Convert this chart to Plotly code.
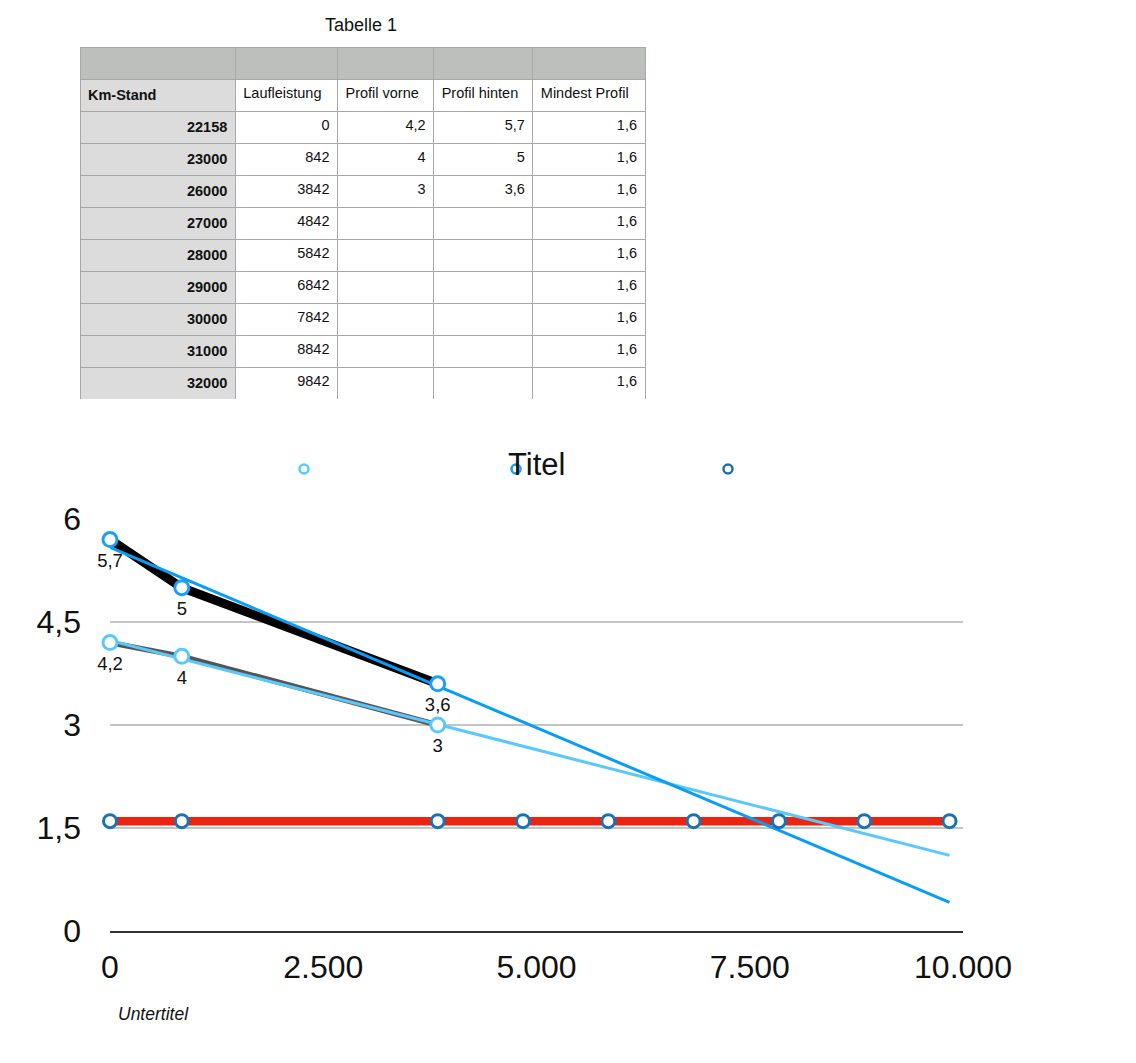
import numpy as np
import plotly.graph_objects as go

# ---------------- data ----------------
km_stand = [22158, 23000, 26000, 27000, 28000, 29000, 30000, 31000, 32000]
laufleistung = [0, 842, 3842, 4842, 5842, 6842, 7842, 8842, 9842]
profil_vorne = [4.2, 4, 3, None, None, None, None, None, None]
profil_hinten = [5.7, 5, 3.6, None, None, None, None, None, None]
mindest_profil = [1.6, 1.6, 1.6, 1.6, 1.6, 1.6, 1.6, 1.6, 1.6]
column_titles = ["Km-Stand", "Laufleistung", "Profil vorne", "Profil hinten", "Mindest Profil"]
x_tick_vals = [0, 2500, 5000, 7500, 10000]
x_tick_text = ["0", "2.500", "5.000", "7.500", "10.000"]
y_tick_vals = [0, 1.5, 3, 4.5, 6]
y_tick_text = ["0", "1,5", "3", "4,5", "6"]
table_title = "Tabelle 1"
chart_title = "Titel"
chart_subtitle = "Untertitel"

# the page body has an 8px margin; size the figure so it fits the window exactly
OFF = 8
W, H = 1136 - 2 * OFF, 1063 - 2 * OFF
FONT = "Liberation Sans, Arial, Helvetica, sans-serif"


def de(v):
    if v is None:
        return ""
    if float(v).is_integer():
        return str(int(v))
    return str(v).replace(".", ",")


def px_x(p):
    return (p - OFF) / W


def px_y(p):
    return 1 - (p - OFF) / H


fig = go.Figure()

# ---------------- table ----------------
COLW = [155, 102, 96, 99, 112]
LINE = dict(color="#a8a8a8", width=1)
cols = [km_stand, laufleistung, profil_vorne, profil_hinten, mindest_profil]

header_vals = []
header_fill = []
body = []
body_fill = []
for ci, col in enumerate(cols):
    t = column_titles[ci].replace(" ", "\u00a0")  # keep titles on one line
    header_vals.append(["", ("<b>%s</b>" % t) if ci == 0 else t])
    header_fill.append(["#bdbfbd", "#dcdcdc" if ci == 0 else "#ffffff"])
    body.append([("<b>%s</b>" % de(v)) if ci == 0 else de(v) for v in col])
    body_fill.append("#dcdcdc" if ci == 0 else "#ffffff")

fig.add_trace(go.Table(
    domain=dict(x=[px_x(80), px_x(645)], y=[px_y(400), px_y(47)]),
    columnwidth=COLW,
    header=dict(values=header_vals, height=32, align="left",
                fill=dict(color=header_fill), line=LINE,
                font=dict(family=FONT, size=14.5, color="#111111")),
    cells=dict(values=body, height=32, align="right",
               fill=dict(color=body_fill), line=LINE,
               font=dict(family=FONT, size=14.5, color="#111111")),
))

# ---------------- chart ----------------
def valid(ys):
    m = [i for i, v in enumerate(ys) if v is not None]
    return [laufleistung[i] for i in m], [ys[i] for i in m]


vx, vy = valid(profil_vorne)
hx, hy = valid(profil_hinten)

# lines
fig.add_trace(go.Scatter(x=vx, y=vy, mode="lines", line=dict(color="#555555", width=5.5),
                         showlegend=False, hoverinfo="skip"))
fig.add_trace(go.Scatter(x=hx, y=hy, mode="lines", line=dict(color="#000000", width=9),
                         showlegend=False, hoverinfo="skip"))
fig.add_trace(go.Scatter(x=laufleistung, y=mindest_profil, mode="lines",
                         line=dict(color="#ea2410", width=8.5), showlegend=False, hoverinfo="skip"))

# linear trend lines computed from the data
tx = [min(laufleistung), max(laufleistung)]
for sx, sy, col in [(vx, vy, "#5ac8fa"), (hx, hy, "#0a9df6")]:
    k, d = np.polyfit(sx, sy, 1)
    fig.add_trace(go.Scatter(x=tx, y=[k * t + d for t in tx], mode="lines",
                             line=dict(color=col, width=3), showlegend=False, hoverinfo="skip"))

# data labels (placed below the points)
for sx, sy in [(vx, vy), (hx, hy)]:
    fig.add_trace(go.Scatter(x=sx, y=sy, mode="markers+text", text=[de(v) for v in sy],
                             textposition="bottom center",
                             textfont=dict(family=FONT, size=18.5, color="#111111"),
                             marker=dict(size=20, color="rgba(0,0,0,0)", line=dict(width=0)),
                             showlegend=False, cliponaxis=False, hoverinfo="skip"))

# markers
fig.add_trace(go.Scatter(x=laufleistung, y=mindest_profil, mode="markers",
                         marker=dict(size=13, color="white", line=dict(color="#1a72b5", width=3)),
                         showlegend=False, cliponaxis=False))
fig.add_trace(go.Scatter(x=vx, y=vy, mode="markers",
                         marker=dict(size=14, color="white", line=dict(color="#5ac8fa", width=3)),
                         showlegend=False, cliponaxis=False))
fig.add_trace(go.Scatter(x=hx, y=hy, mode="markers",
                         marker=dict(size=14, color="white", line=dict(color="#1aa0f5", width=3)),
                         showlegend=False, cliponaxis=False))

# legend entries (markers only, no names as in the reference)
for col in ["#5ac8fa", "#1aa0f5", "#1a72b5"]:
    fig.add_trace(go.Scatter(x=[None], y=[None], mode="markers", name=" ",
                             marker=dict(size=9, color="white", line=dict(color=col, width=2.5)),
                             showlegend=True))

fig.update_layout(
    width=W, height=H,
    margin=dict(l=0, r=0, t=0, b=0, autoexpand=False),
    paper_bgcolor="white", plot_bgcolor="white",
    font=dict(family=FONT, color="#111111"),
    xaxis=dict(domain=[px_x(110), px_x(963)], range=[0, 10000],
               tickvals=x_tick_vals, ticktext=x_tick_text,
               tickfont=dict(size=32, color="#111111"),
               showgrid=False, zeroline=False, automargin=False,
               showline=True, linecolor="#333333", linewidth=2,
               ticks="", ticklabelstandoff=7),
    yaxis=dict(domain=[px_y(931), px_y(519)], range=[0, 6],
               tickvals=y_tick_vals, ticktext=y_tick_text,
               tickfont=dict(size=32, color="#111111"),
               showgrid=True, gridcolor="#c4c4c4", gridwidth=1.5, automargin=False,
               zeroline=False, showline=False, ticks="", ticklabelstandoff=28),
    legend=dict(orientation="h", x=px_x(284), y=px_y(469), yanchor="middle", xanchor="left",
                entrywidth=167, entrywidthmode="pixels", itemwidth=30,
                bgcolor="rgba(0,0,0,0)", font=dict(size=12)),
    annotations=[
        dict(text=table_title, x=px_x(361), y=px_y(25), xref="paper", yref="paper",
             xanchor="center", yanchor="middle",
             showarrow=False, font=dict(family=FONT, size=18, color="#111111")),
        dict(text=chart_title, x=px_x(536), y=px_y(465), xref="paper", yref="paper",
             xanchor="center", yanchor="middle",
             showarrow=False, font=dict(family=FONT, size=31, color="#111111")),
        dict(text="<i>%s</i>" % chart_subtitle, x=px_x(116), y=px_y(1014), xref="paper", yref="paper",
             xanchor="left", yanchor="middle",
             showarrow=False, font=dict(family=FONT, size=17.5, color="#111111")),
    ],
)

fig.write_html("out.html")
